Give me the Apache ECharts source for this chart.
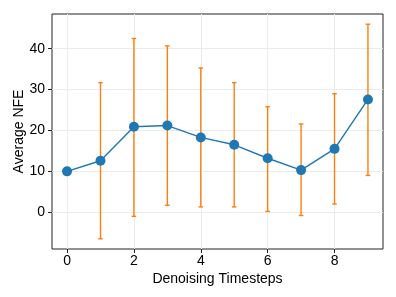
<!DOCTYPE html>
<html>
<head>
<meta charset="utf-8">
<script src="https://cdn.jsdelivr.net/npm/echarts@6/dist/echarts.min.js"></script>
<style>html,body{margin:0;padding:0;background:#fff}#c{width:396px;height:297px}</style>
</head>
<body>
<div id="c"></div>
<script>
var timesteps = [0, 1, 2, 3, 4, 5, 6, 7, 8, 9];
var avgNFE = [10.0, 12.6, 20.9, 21.2, 18.3, 16.5, 13.2, 10.3, 15.5, 27.6];
var errLow = [10.0, -6.5, -1.0, 1.7, 1.3, 1.3, 0.2, -0.8, 2.0, 9.0];
var errHigh = [10.0, 31.7, 42.5, 40.7, 35.3, 31.7, 25.8, 21.6, 29.0, 46.0];
var xTicks = [0, 2, 4, 6, 8];
var yTicks = [0, 10, 20, 30, 40];

var font = "'Liberation Sans', Arial, sans-serif";
var chart = echarts.init(document.getElementById('c'), null, {renderer: 'canvas'});
var lineData = timesteps.map(function (t, i) { return [t, avgNFE[i]]; });
var errData = timesteps.map(function (t, i) { return [t, errLow[i], errHigh[i]]; });

chart.setOption({
  animation: false,
  grid: {left: 52, right: 13, top: 14, bottom: 48, show: true, borderColor: '#222', borderWidth: 1, backgroundColor: 'transparent'},
  xAxis: {
    type: 'value', min: -0.45, max: 9.45,
    name: 'Denoising Timesteps', nameLocation: 'middle', nameGap: 23, nameMoveOverlap: false,
    nameTextStyle: {fontFamily: font, fontSize: 14, color: '#000'},
    axisLine: {show: false, onZero: false},
    axisTick: {show: true, inside: false, length: 4, lineStyle: {color: '#222'}, customValues: xTicks},
    axisLabel: {fontFamily: font, fontSize: 14, color: '#000', margin: 5, customValues: xTicks},
    splitLine: {show: true, lineStyle: {color: '#ebebeb', width: 1}}
  },
  yAxis: {
    type: 'value', min: -9.0, max: 48.5,
    name: 'Average NFE', nameLocation: 'middle', nameGap: 26, nameMoveOverlap: false,
    nameTextStyle: {fontFamily: font, fontSize: 14, color: '#000'},
    axisLine: {show: false, onZero: false},
    axisTick: {show: true, inside: false, length: 4, lineStyle: {color: '#222'}, customValues: yTicks},
    axisLabel: {fontFamily: font, fontSize: 14, color: '#000', margin: 7, customValues: yTicks},
    splitLine: {show: true, lineStyle: {color: '#ebebeb', width: 1}}
  },
  series: [
    {
      type: 'custom',
      z: 2,
      data: errData,
      renderItem: function (params, api) {
        var x = api.value(0);
        var top = api.coord([x, api.value(2)]);
        var bot = api.coord([x, api.value(1)]);
        var c = 2.3;
        var st = {stroke: '#ff7f0e', lineWidth: 1.4};
        return {
          type: 'group',
          children: [
            {type: 'line', shape: {x1: top[0], y1: top[1], x2: bot[0], y2: bot[1]}, style: st},
            {type: 'line', shape: {x1: top[0] - c, y1: top[1], x2: top[0] + c, y2: top[1]}, style: st},
            {type: 'line', shape: {x1: bot[0] - c, y1: bot[1], x2: bot[0] + c, y2: bot[1]}, style: st}
          ]
        };
      }
    },
    {
      type: 'line',
      z: 3,
      data: lineData,
      symbol: 'circle', symbolSize: 10,
      lineStyle: {color: '#1f77b4', width: 1.4},
      itemStyle: {color: '#1f77b4'}
    }
  ]
});
</script>
</body>
</html>
